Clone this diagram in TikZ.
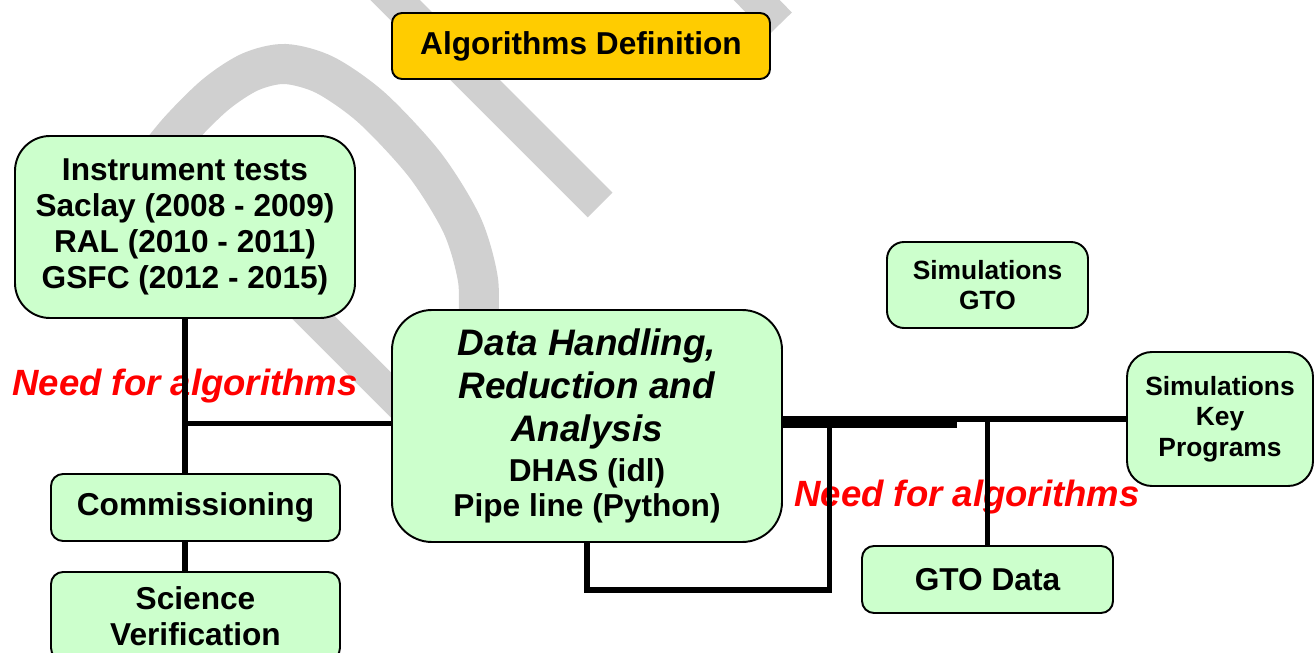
\documentclass[tikz,border=0pt]{standalone}
\usepackage{fontspec}
\setmainfont{Liberation Sans}
\usepackage{xcolor}
\definecolor{boxgreen}{RGB}{204,255,204}
\definecolor{algogold}{RGB}{255,204,0}
\definecolor{wmgray}{RGB}{208,208,208}
\usetikzlibrary{positioning,calc}
\tikzset{
  greenbox/.style={rectangle,rounded corners=5pt,draw=black,line width=1.1pt,fill=boxgreen,
                   align=center,inner sep=0pt,font=\bfseries\fontsize{18}{20.5}\selectfont},
  simbox/.style  ={greenbox,font=\bfseries\fontsize{15}{17.4}\selectfont},
  goldbox/.style ={greenbox,fill=algogold},
  link/.style    ={line width=3.1pt,draw=black},
  needtag/.style ={text=red,inner sep=0pt,font=\bfseries\itshape\fontsize{20.8}{24}\selectfont},
  wmark/.style   ={draw=wmgray},
}

\begin{document}
\begin{tikzpicture}
  \useasboundingbox (0,0) rectangle (26.28,-13.06);

  % ---- watermark strokes (behind everything) ---------------------------
  \draw[wmark,line width=0.8cm] plot[smooth] coordinates
    {(2.80,-3.60) (3.54,-2.66) (4.30,-1.90) (5.00,-1.44) (5.70,-1.28) (6.50,-1.50)
     (7.44,-2.16) (8.50,-3.30) (9.24,-4.50) (9.56,-5.60) (9.56,-6.60)};
  \draw[wmark,line width=0.64cm] (5.20,-5.28) -- (8.80,-8.88);
  \draw[wmark,line width=0.70cm] (7.60,0.30) -- (12.00,-4.10);
  \draw[wmark,line width=0.66cm] (14.90,0.24) -- (15.60,-0.48);

  % ---- labels --------------------------------------------------------
  \node[needtag,anchor=base] (needl) at (3.70,-7.90) {Need for algorithms};
  \node[needtag,anchor=base] (needr) at (19.34,-10.12) {Need for algorithms};

  % ---- boxes ---------------------------------------------------------
  \node[goldbox,rounded corners=0.2cm,minimum width=7.56cm,minimum height=1.32cm] (algo)
    at (11.62,-0.92) {Algorithms Definition};
  \node[greenbox,rounded corners=0.7cm,minimum width=6.8cm,minimum height=3.64cm] (ins)
    at (3.70,-4.54) {Instrument tests\\Saclay (2008 - 2009)\\RAL (2010 - 2011)\\GSFC (2012 - 2015)};
  \node[greenbox,rounded corners=0.8cm,minimum width=7.8cm,minimum height=4.64cm,
        font=\bfseries\fontsize{18}{20}\selectfont] (dh) at (11.74,-8.52)
    {\textit{\fontsize{21}{24}\selectfont Data Handling,}\\[4.5pt]
     \textit{\fontsize{21}{24}\selectfont Reduction and}\\[4.5pt]
     \textit{\fontsize{21}{24}\selectfont Analysis}\\[3pt]
     DHAS (idl)\\Pipe line (Python)};
  \node[greenbox,rounded corners=0.24cm,minimum width=5.78cm,minimum height=1.34cm] (cm)
    at (3.91,-10.15) {Commissioning};
  \node[greenbox,rounded corners=0.24cm,minimum width=5.78cm,minimum height=1.76cm] (sv)
    at (3.91,-12.32) {Science\\Verification};
  \node[simbox,rounded corners=0.34cm,minimum width=4.02cm,minimum height=1.72cm] (sg)
    at (19.75,-5.70) {Simulations\\GTO};
  \node[simbox,rounded corners=0.5cm,minimum width=3.72cm,minimum height=2.68cm] (sk)
    at (24.40,-8.38) {Simulations\\Key\\Programs};
  \node[greenbox,rounded corners=0.24cm,minimum width=5.02cm,minimum height=1.34cm] (gd)
    at (19.75,-11.59) {GTO Data};

  % ---- connectors ----------------------------------------------------
  \coordinate (jl) at (3.70,-8.47);
  \coordinate (jt) at (16.59,-8.50);
  \coordinate (jx) at (19.14,-8.50);
  \draw[link] (ins.south) -- (ins.south |- cm.north);
  \draw[link] (ins.south |- cm.south) -- (ins.south |- sv.north);
  \draw[link] (jl) -- (jl -| dh.west);
  \draw[link] (sk.west -| dh.east) -- (sk.west);
  \draw[link] (jx -| dh.east) -- (jx);
  \draw[link] (dh.south) -- ++(0,-0.94) -| (jt);
  \draw[link] (gd.north) -- (gd.north |- sk.west);
\end{tikzpicture}
\end{document}
